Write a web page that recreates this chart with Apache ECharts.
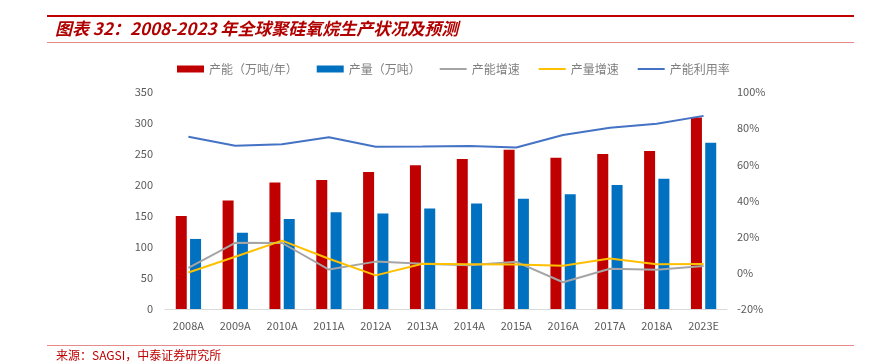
<!DOCTYPE html>
<html>
<head>
<meta charset="utf-8">
<script src="https://cdn.jsdelivr.net/npm/echarts@6/dist/echarts.min.js"></script>
<style>
html, body { margin: 0; padding: 0; background: #fff; }
#main { width: 883px; height: 364px; }
</style>
</head>
<body>
<div id="main"></div>
<script>
// 数据
var years = ['2008A', '2009A', '2010A', '2011A', '2012A', '2013A', '2014A', '2015A', '2016A', '2017A', '2018A', '2023E'];
var capacity = [150, 175, 204, 208, 221, 232, 242, 257, 244, 250, 255, 309];      // 产能（万吨/年）
var output = [113, 123, 145, 156, 154, 162, 170, 178, 185, 200, 210, 268];        // 产量（万吨）
var capGrowth = [2.8, 16.6, 16.5, 1.8, 6.2, 5.0, 4.2, 6.1, -5.2, 2.3, 1.7, 3.8];  // 产能增速 %
var outGrowth = [0.2, 8.9, 17.8, 7.8, -1.4, 5.0, 4.8, 4.6, 3.9, 7.9, 4.8, 4.9];   // 产量增速 %
var utilization = [75.3, 70.3, 71.1, 75.0, 69.7, 69.8, 70.2, 69.3, 76.2, 80.2, 82.5, 86.8]; // 产能利用率 %
var leftTicks = { min: 0, max: 350, interval: 50 };
var rightTicks = { min: -20, max: 100, interval: 20 };

var myChart = echarts.init(document.getElementById('main'));
var font = '"Noto Sans CJK SC", "Noto Sans", sans-serif';
var lineIcon = 'path://M0,0 L27,0 L27,2 L0,2 Z';
var option = null;

option = {
    backgroundColor: '#fff',
    textStyle: { fontFamily: font },
    animation: false,
    graphic: [
        // 顶部红线
        { type: 'rect', shape: { x: 47, y: 15, width: 807, height: 2 }, style: { fill: '#C00000' } },
        {
            type: 'text', left: 55, top: 20,
            style: {
                text: '图表 32：2008-2023 年全球聚硅氧烷生产状况及预测',
                font: 'italic bold 17px ' + font,
                fill: '#B00000'
            }
        },
        { type: 'rect', shape: { x: 47, y: 42, width: 807, height: 1 }, style: { fill: '#E88A8A' } },
        // 底部
        { type: 'rect', shape: { x: 47, y: 345, width: 807, height: 1 }, style: { fill: '#E88A8A' } },
        {
            type: 'text', left: 56, top: 349,
            style: {
                text: '来源：SAGSI，中泰证券研究所',
                font: '12px ' + font,
                fill: '#C00000'
            }
        }
    ],
    legend: {
        left: 172,
        top: 58,
        itemWidth: 27,
        itemHeight: 7,
        itemGap: 19,
        textStyle: { color: '#7F7F7F', fontSize: 12 },
        data: [
            { name: '产能（万吨/年）', icon: 'rect' },
            { name: '产量（万吨）', icon: 'rect' },
            { name: '产能增速', icon: lineIcon },
            { name: '产量增速', icon: lineIcon },
            { name: '产能利用率', icon: lineIcon }
        ]
    },
    grid: {
        left: 165,
        right: 156,
        top: 92,
        bottom: 55
    },
    xAxis: {
        type: 'category',
        data: years,
        axisTick: { show: false },
        axisLine: { lineStyle: { color: '#D9D9D9' } },
        axisLabel: { color: '#595959', fontSize: 11, margin: 11 }
    },
    yAxis: [{
        type: 'value',
        min: leftTicks.min,
        max: leftTicks.max,
        interval: leftTicks.interval,
        splitLine: { show: false },
        axisLine: { show: false },
        axisLabel: { color: '#595959', fontSize: 11, margin: 12 }
    }, {
        type: 'value',
        min: rightTicks.min,
        max: rightTicks.max,
        interval: rightTicks.interval,
        splitLine: { show: false },
        axisLine: { show: false },
        axisLabel: { color: '#595959', fontSize: 11, margin: 10, formatter: '{value}%' }
    }],
    series: [{
        name: '产能（万吨/年）',
        type: 'bar',
        barWidth: 11,
        barGap: '30%',
        itemStyle: { color: '#C00000' },
        data: capacity
    }, {
        name: '产量（万吨）',
        type: 'bar',
        barWidth: 11,
        itemStyle: { color: '#0070C0' },
        data: output
    }, {
        name: '产能增速',
        type: 'line',
        yAxisIndex: 1,
        symbol: 'none',
        lineStyle: { color: '#A5A5A5', width: 2 },
        itemStyle: { color: '#A5A5A5' },
        data: capGrowth
    }, {
        name: '产量增速',
        type: 'line',
        yAxisIndex: 1,
        symbol: 'none',
        lineStyle: { color: '#FFC000', width: 2 },
        itemStyle: { color: '#FFC000' },
        data: outGrowth
    }, {
        name: '产能利用率',
        type: 'line',
        yAxisIndex: 1,
        symbol: 'none',
        lineStyle: { color: '#4472C4', width: 2 },
        itemStyle: { color: '#4472C4' },
        data: utilization
    }]
};
myChart.setOption(option);
</script>
</body>
</html>
